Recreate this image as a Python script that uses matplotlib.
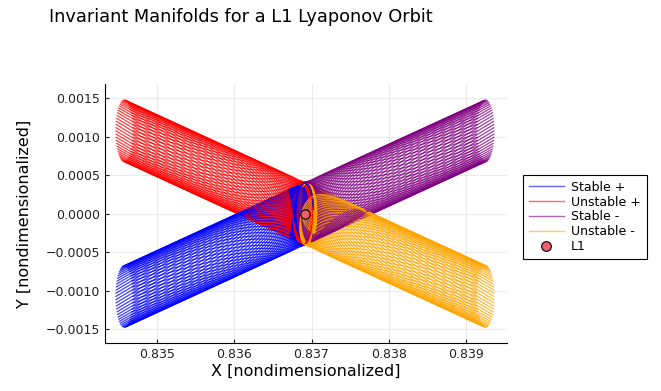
import numpy as np
import matplotlib.pyplot as plt
from matplotlib.lines import Line2D

# Variétés invariantes d'une orbite de Lyapunov autour de L1 (Terre-Lune)
# Dynamique linéarisée autour de L1 : les tubes sont quasi rectilignes à cette échelle

l1_x = 0.836915       # position de L1 [adim]
l1_y = 0.0
c2 = 5.1465           # coefficient du potentiel en L1
orbit_ay = 0.00040    # demi-amplitude en y de l'orbite de Lyapunov
tube_dx = 0.00234     # distance en x entre L1 et le bout des tubes
eps = 1e-6            # perturbation initiale le long du vecteur propre
n_traj = 60           # trajectoires par variété
n_pts = 400

labels = ["Stable +", "Unstable +", "Stable -", "Unstable -"]
colors = ["blue", "red", "purple", "orange"]
side = [-1, -1, 1, 1]
is_stable = [True, False, True, False]

x_ticks = [0.835, 0.836, 0.837, 0.838, 0.839]
y_ticks = [-0.0015, -0.0010, -0.0005, 0.0, 0.0005, 0.0010, 0.0015]

# valeurs propres du problème linéarisé
disc = np.sqrt(9 * c2**2 - 8 * c2)
lam = np.sqrt((c2 - 2 + disc) / 2)
nu = np.sqrt((2 - c2 + disc) / 2)
kappa = (nu**2 + 1 + 2 * c2) / (2 * nu)
sigma = (lam**2 - 1 - 2 * c2) / (2 * lam)
orbit_ax = orbit_ay / kappa
T = np.log(tube_dx / eps) / lam

fig = plt.figure(figsize=(6.61, 3.91), dpi=100)
ax = fig.add_axes([105 / 661, 1 - 343.3 / 391, (506.7 - 105) / 661, (343.3 - 84) / 391])

# orbite de Lyapunov (dessinée en premier, recouverte par les tubes)
th = np.linspace(0, 2 * np.pi, 300)
ax.plot(l1_x + orbit_ax * np.cos(th), l1_y - orbit_ay * np.sin(th), color="green", lw=2.5, zorder=1)

for k in range(n_traj):
    phi = 2 * np.pi * k / n_traj
    for lab, col, s, st in zip(labels, colors, side, is_stable):
        if st:
            t = np.linspace(-T, 0, n_pts)
            grow = s * eps * np.exp(-lam * t)
            slope = -sigma
        else:
            t = np.linspace(0, T, n_pts)
            grow = s * eps * np.exp(lam * t)
            slope = sigma
        xs = l1_x + orbit_ax * np.cos(nu * t + phi) + grow
        ys = l1_y - orbit_ay * np.sin(nu * t + phi) + slope * grow
        ax.plot(xs, ys, color=col, lw=0.9, alpha=0.75, zorder=2)

ax.scatter([l1_x], [l1_y], s=45, color="#ec5f6a", edgecolor="black", linewidth=0.8, zorder=5)

ax.set_xlim(0.834321, 0.839532)
ax.set_ylim(-0.001686, 0.001686)
ax.set_xticks(x_ticks)
ax.set_yticks(y_ticks)
ax.set_xticklabels([f"{v:.3f}" for v in x_ticks])
ax.set_yticklabels([f"{v:.4f}".replace("-", "\u2212") for v in y_ticks])
ax.tick_params(direction="in", length=3, labelsize=9, colors="#222222")
ax.grid(True, color="black", alpha=0.08, lw=0.8)
ax.set_axisbelow(True)
for sp in ["top", "right"]:
    ax.spines[sp].set_visible(False)
ax.set_xlabel("X [nondimensionalized]", fontsize=11.5, labelpad=2)
ax.set_ylabel("Y [nondimensionalized]", fontsize=11.5, labelpad=10)

fig.text(241 / 661, 1 - 17 / 391, "Invariant Manifolds for a L1 Lyaponov Orbit",
         ha="center", va="center", fontsize=12.8)

handles = [Line2D([], [], color=c, lw=1, alpha=0.6) for c in colors]
handles.append(Line2D([], [], ls="none", marker="o", ms=7, mfc="#ec5f6a", mec="black", mew=0.8))
leg = fig.legend(handles, labels + ["L1"], loc="upper left",
                 bbox_to_anchor=(523 / 661, 1 - 175 / 391), bbox_transform=fig.transFigure,
                 borderaxespad=0, fontsize=9, fancybox=False, framealpha=1, edgecolor="black",
                 handlelength=2.8, labelspacing=0.15, borderpad=0.45, handletextpad=0.6)
leg.get_frame().set_linewidth(0.8)

fig.savefig("out.png", dpi=100)
